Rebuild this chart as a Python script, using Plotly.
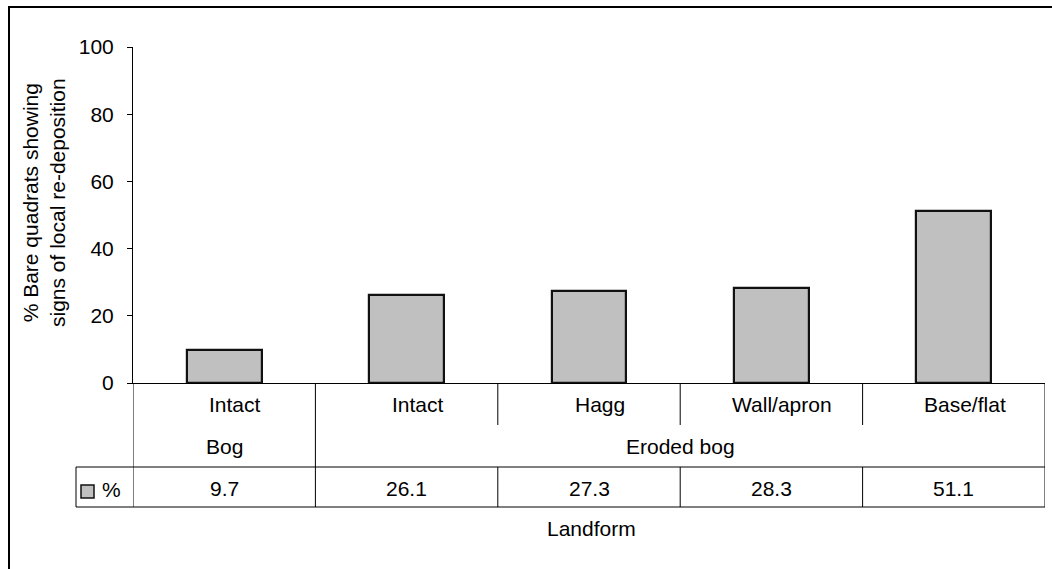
import plotly.graph_objects as go

# Landform categories, their parent groups and the percentage values
landforms = ["Intact", "Intact", "Hagg", "Wall/apron", "Base/flat"]
groups = ["Bog", "Eroded bog", "Eroded bog", "Eroded bog", "Eroded bog"]
values = [9.7, 26.1, 27.3, 28.3, 51.1]
series_name = "%"
y_ticks = [0, 20, 40, 60, 80, 100]
y_title = "% Bare quadrats showing<br>signs of local re-deposition"
x_title = "Landform"

FONT = "Liberation Sans, Arial, sans-serif"
FS = 21
BAR_FILL = "#C0C0C0"
LINE = "#000000"

W, H = 1052, 569
L, R, T, B = 133, 7, 47, 186
plot_w = W - L - R
plot_h = H - T - B


def py(px):
    """Pixel row (from top) to paper y."""
    return (H - B - px) / plot_h


def pxp(px):
    """Pixel column to paper x."""
    return (px - L) / plot_w


idx = list(range(len(values)))

fig = go.Figure(
    go.Bar(
        x=idx,
        y=values,
        width=0.41,
        marker=dict(color=BAR_FILL, line=dict(color="#111111", width=2.2)),
        showlegend=False,
    )
)

# table rows below the plot (pixel rows)
row1_bot, row2_bot, row3_bot = 425, 467, 507
key_left = 76

shapes = []


def vline(x, y0, y1, xref="x", width=1):
    shapes.append(dict(type="line", xref=xref, yref="paper", x0=x, x1=x,
                       y0=y0, y1=y1, line=dict(color=LINE, width=width)))


def hline(x0, x1, y, width=1):
    shapes.append(dict(type="line", xref="paper", yref="paper", x0=x0, x1=x1,
                       y0=y, y1=y, line=dict(color=LINE, width=width)))


n = len(values)
# left edge of table (continuation of the y axis) and right edge
vline(-0.5, 0, py(row3_bot))
vline(n - 0.5, 0, py(row3_bot))
# inner column boundaries
for i in range(n - 1):
    b = i + 0.5
    if groups[i] != groups[i + 1]:
        vline(b, 0, py(row3_bot))
    else:
        vline(b, 0, py(row1_bot))
        vline(b, py(row2_bot), py(row3_bot))
# data row box including the legend key cell
hline(pxp(key_left), 1, py(row2_bot))
hline(pxp(key_left), 1, py(row3_bot))
vline(pxp(key_left), py(row2_bot), py(row3_bot), xref="paper")

# legend key square
shapes.append(dict(type="rect", xref="paper", yref="paper",
                   x0=pxp(81), x1=pxp(94), y0=py(498), y1=py(485),
                   fillcolor=BAR_FILL, line=dict(color="#111111", width=1.5)))

# outer chart frame: top and left edges (the rest runs off the page)
hline(pxp(8), pxp(1060), py(7), width=2)
vline(pxp(9), py(6), py(600), xref="paper", width=2)

annotations = []


def text(x, y, s, xref="x", xshift=0):
    annotations.append(dict(x=x, y=y, xref=xref, yref="paper", text=s,
                            showarrow=False, xanchor="center", yanchor="middle",
                            xshift=xshift,
                            font=dict(family=FONT, size=FS, color="#000")))


# landform labels
for i, lab in enumerate(landforms):
    text(i, py(404), lab, xshift=11)

# group labels, centred over their span of columns
start = 0
for i in range(1, n + 1):
    if i == n or groups[i] != groups[start]:
        text((start + i - 1) / 2, py(446), groups[start])
        start = i

# data row values
for i, v in enumerate(values):
    text(i, py(488), f"{v:.1f}")
text(pxp(111), py(489), series_name, xref="paper")

# axis titles
text(pxp(591), py(528), x_title, xref="paper")
annotations.append(dict(x=pxp(44), y=py(203), xref="paper", yref="paper",
                        text=y_title, showarrow=False, textangle=-90,
                        xanchor="center", yanchor="middle", align="center",
                        font=dict(family=FONT, size=FS, color="#000")))

fig.update_layout(
    width=W, height=H,
    margin=dict(l=L, r=R, t=T, b=B),
    paper_bgcolor="white", plot_bgcolor="white",
    font=dict(family=FONT, size=FS, color="#000"),
    shapes=shapes, annotations=annotations,
    bargap=0,
)
fig.update_xaxes(range=[-0.5, n - 0.5], showticklabels=False, ticks="",
                 showgrid=False, zeroline=False, showline=True,
                 linecolor="#000", linewidth=1)
fig.update_yaxes(range=[0, 100], tickvals=y_ticks, ticks="outside", ticklen=5,
                 tickcolor="#000", showgrid=False, zeroline=False,
                 showline=True, linecolor="#000", linewidth=1,
                 ticklabelstandoff=9,
                 tickfont=dict(family=FONT, size=FS, color="#000"))

fig.write_html("out.html")
